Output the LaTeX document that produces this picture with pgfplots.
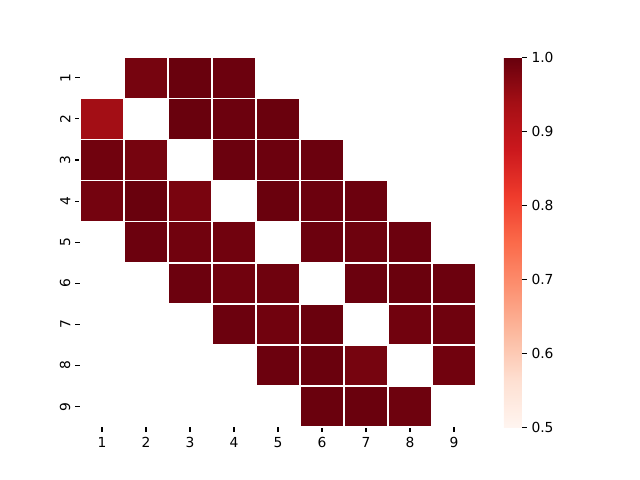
\documentclass[border=0pt]{standalone}
\usepackage{fontspec}
\setmainfont{DejaVu Sans}
\usepackage{pgfplots}
\usepackage{pgfplotstable}
\pgfplotsset{compat=1.18}

% matplotlib "Reds"
\pgfplotsset{colormap={reds}{
  rgb255=(255,245,240) rgb255=(254,224,210) rgb255=(252,187,161)
  rgb255=(252,146,114) rgb255=(251,106,74) rgb255=(239,59,44)
  rgb255=(203,24,29) rgb255=(165,15,21) rgb255=(103,0,13)}}

% column, row, value (empty cells left out)
\pgfplotstableread{
x y c
2 1 0.985
3 1 0.998
4 1 0.995
1 2 0.940
3 2 0.998
4 2 0.995
5 2 0.997
1 3 0.990
2 3 0.985
4 3 0.996
5 3 0.995
6 3 0.996
1 4 0.987
2 4 0.998
3 4 0.982
5 4 0.997
6 4 0.995
7 4 0.995
2 5 0.995
3 5 0.990
4 5 0.990
6 5 0.995
7 5 0.993
8 5 0.995
3 6 0.995
4 6 0.990
5 6 0.992
7 6 0.996
8 6 0.997
9 6 0.995
4 7 0.995
5 7 0.990
6 7 0.997
8 7 0.990
9 7 0.992
5 8 0.995
6 8 0.997
7 8 0.985
9 8 0.990
6 9 0.997
7 9 0.997
8 9 0.993
}\cells

\begin{document}
\begin{tikzpicture}
\path[use as bounding box] (-0.80in,-0.528in) rectangle (5.60in,4.272in);
\begin{axis}[
    at={(0,0)}, anchor=south west,
    scale only axis,
    width=3.96in, height=3.70in,
    xmin=0.5, xmax=9.5, ymin=0.5, ymax=9.5,
    axis line style={draw=none},
    xtick={1,...,9},
    ytick={1,...,9},
    yticklabels={9,8,7,6,5,4,3,2,1},
    tick align=outside,
    xtick pos=bottom, ytick pos=left,
    major tick length=3.5pt,
    every tick/.style={black, line width=0.8pt},
    yticklabel style={rotate=90, anchor=south},
    tick label style={font=\fontsize{10}{12}\selectfont},
    /pgf/number format/assume math mode=true,
    colormap name=reds,
    point meta min=0.5, point meta max=1,
    colorbar,
    colorbar style={
        width=0.18in,
        at={(parent axis.north east)}, anchor=north west,
        xshift=0.16in,
        axis line style={draw=none},
        ytick={0.5,0.6,0.7,0.8,0.9,1.0},
        ytick pos=right,
        yticklabel style={/pgf/number format/.cd, fixed, fixed zerofill, precision=1},
        tick align=outside,
        major tick length=3.5pt,
        every tick/.style={black, line width=0.8pt},
        /pgf/number format/assume math mode=true,
        tick label style={font=\fontsize{10}{12}\selectfont},
    },
]
\addplot[scatter, only marks, mark=square*, mark size=14.86pt,
    mark options={xscale=1.0703},
    scatter/use mapped color={draw=white, fill=mapped color, line width=1.1pt},
    point meta=explicit]
    table[x=x, y expr=10-\thisrow{y}, meta=c] {\cells};
\end{axis}
\end{tikzpicture}
\end{document}
